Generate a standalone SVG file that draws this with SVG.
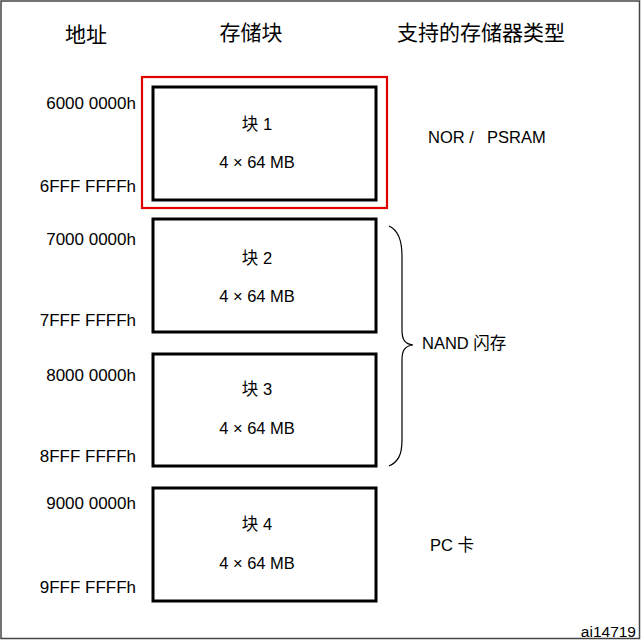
<svg xmlns="http://www.w3.org/2000/svg" width="642" height="642" viewBox="0 0 642 642">
<style>
.t{font-family:"Liberation Sans","Noto Sans CJK SC",sans-serif;font-size:16.5px;fill:#000}
.h{font-family:"Liberation Sans","Noto Sans CJK SC",sans-serif;font-size:21px;fill:#000}
.a{text-anchor:end;font-size:17px}
.m{text-anchor:middle}
.box{fill:#fff;stroke:#000;stroke-width:3}
</style>
<rect x="1" y="1" width="638.5" height="637.5" fill="#fff" stroke="#444" stroke-width="1.5"/>
<g id="headers">
<text class="h m" x="86" y="42">地址</text>
<text class="h m" x="251" y="40">存储块</text>
<text class="h m" x="481" y="40">支持的存储器类型</text>
</g>
<g id="block1">
<rect x="142" y="77" width="245" height="131" fill="none" stroke="#e00000" stroke-width="2.2"/>
<rect class="box" x="153" y="87" width="223" height="113"/>
<text class="t m" x="257" y="130">块 1</text>
<text class="t m" x="257" y="168">4 × 64 MB</text>
<text class="t a" x="136" y="109">6000 0000h</text>
<text class="t a" x="136" y="192">6FFF FFFFh</text>
<text class="t" x="428" y="143">NOR /<tspan x="487">PSRAM</tspan></text>
</g>
<g id="block2">
<rect class="box" x="153" y="219" width="223" height="113"/>
<text class="t m" x="257" y="264">块 2</text>
<text class="t m" x="257" y="302">4 × 64 MB</text>
<text class="t a" x="136" y="245">7000 0000h</text>
<text class="t a" x="136" y="326">7FFF FFFFh</text>
</g>
<g id="block3">
<rect class="box" x="153" y="354" width="223" height="112"/>
<text class="t m" x="257" y="395">块 3</text>
<text class="t m" x="257" y="434">4 × 64 MB</text>
<text class="t a" x="136" y="381">8000 0000h</text>
<text class="t a" x="136" y="462">8FFF FFFFh</text>
</g>
<g id="block4">
<rect class="box" x="153" y="488" width="223" height="113"/>
<text class="t m" x="257" y="530">块 4</text>
<text class="t m" x="257" y="569">4 × 64 MB</text>
<text class="t a" x="136" y="509">9000 0000h</text>
<text class="t a" x="136" y="593">9FFF FFFFh</text>
<text class="t" x="430" y="551">PC 卡</text>
</g>
<g id="connectors">
<path d="M389,226 C398,230 402,240 402,256 L402,330 C402,340 405,344 413,345 C405,346 402,350 402,360 L402,440 C402,455 398,462 389,466" fill="none" stroke="#000" stroke-width="1.2"/>
</g>
<g id="nand">
<text class="t" x="422" y="349">NAND 闪存</text>
</g>
<text class="t" x="636" y="637" style="font-size:15.5px;text-anchor:end">ai14719</text>
</svg>
